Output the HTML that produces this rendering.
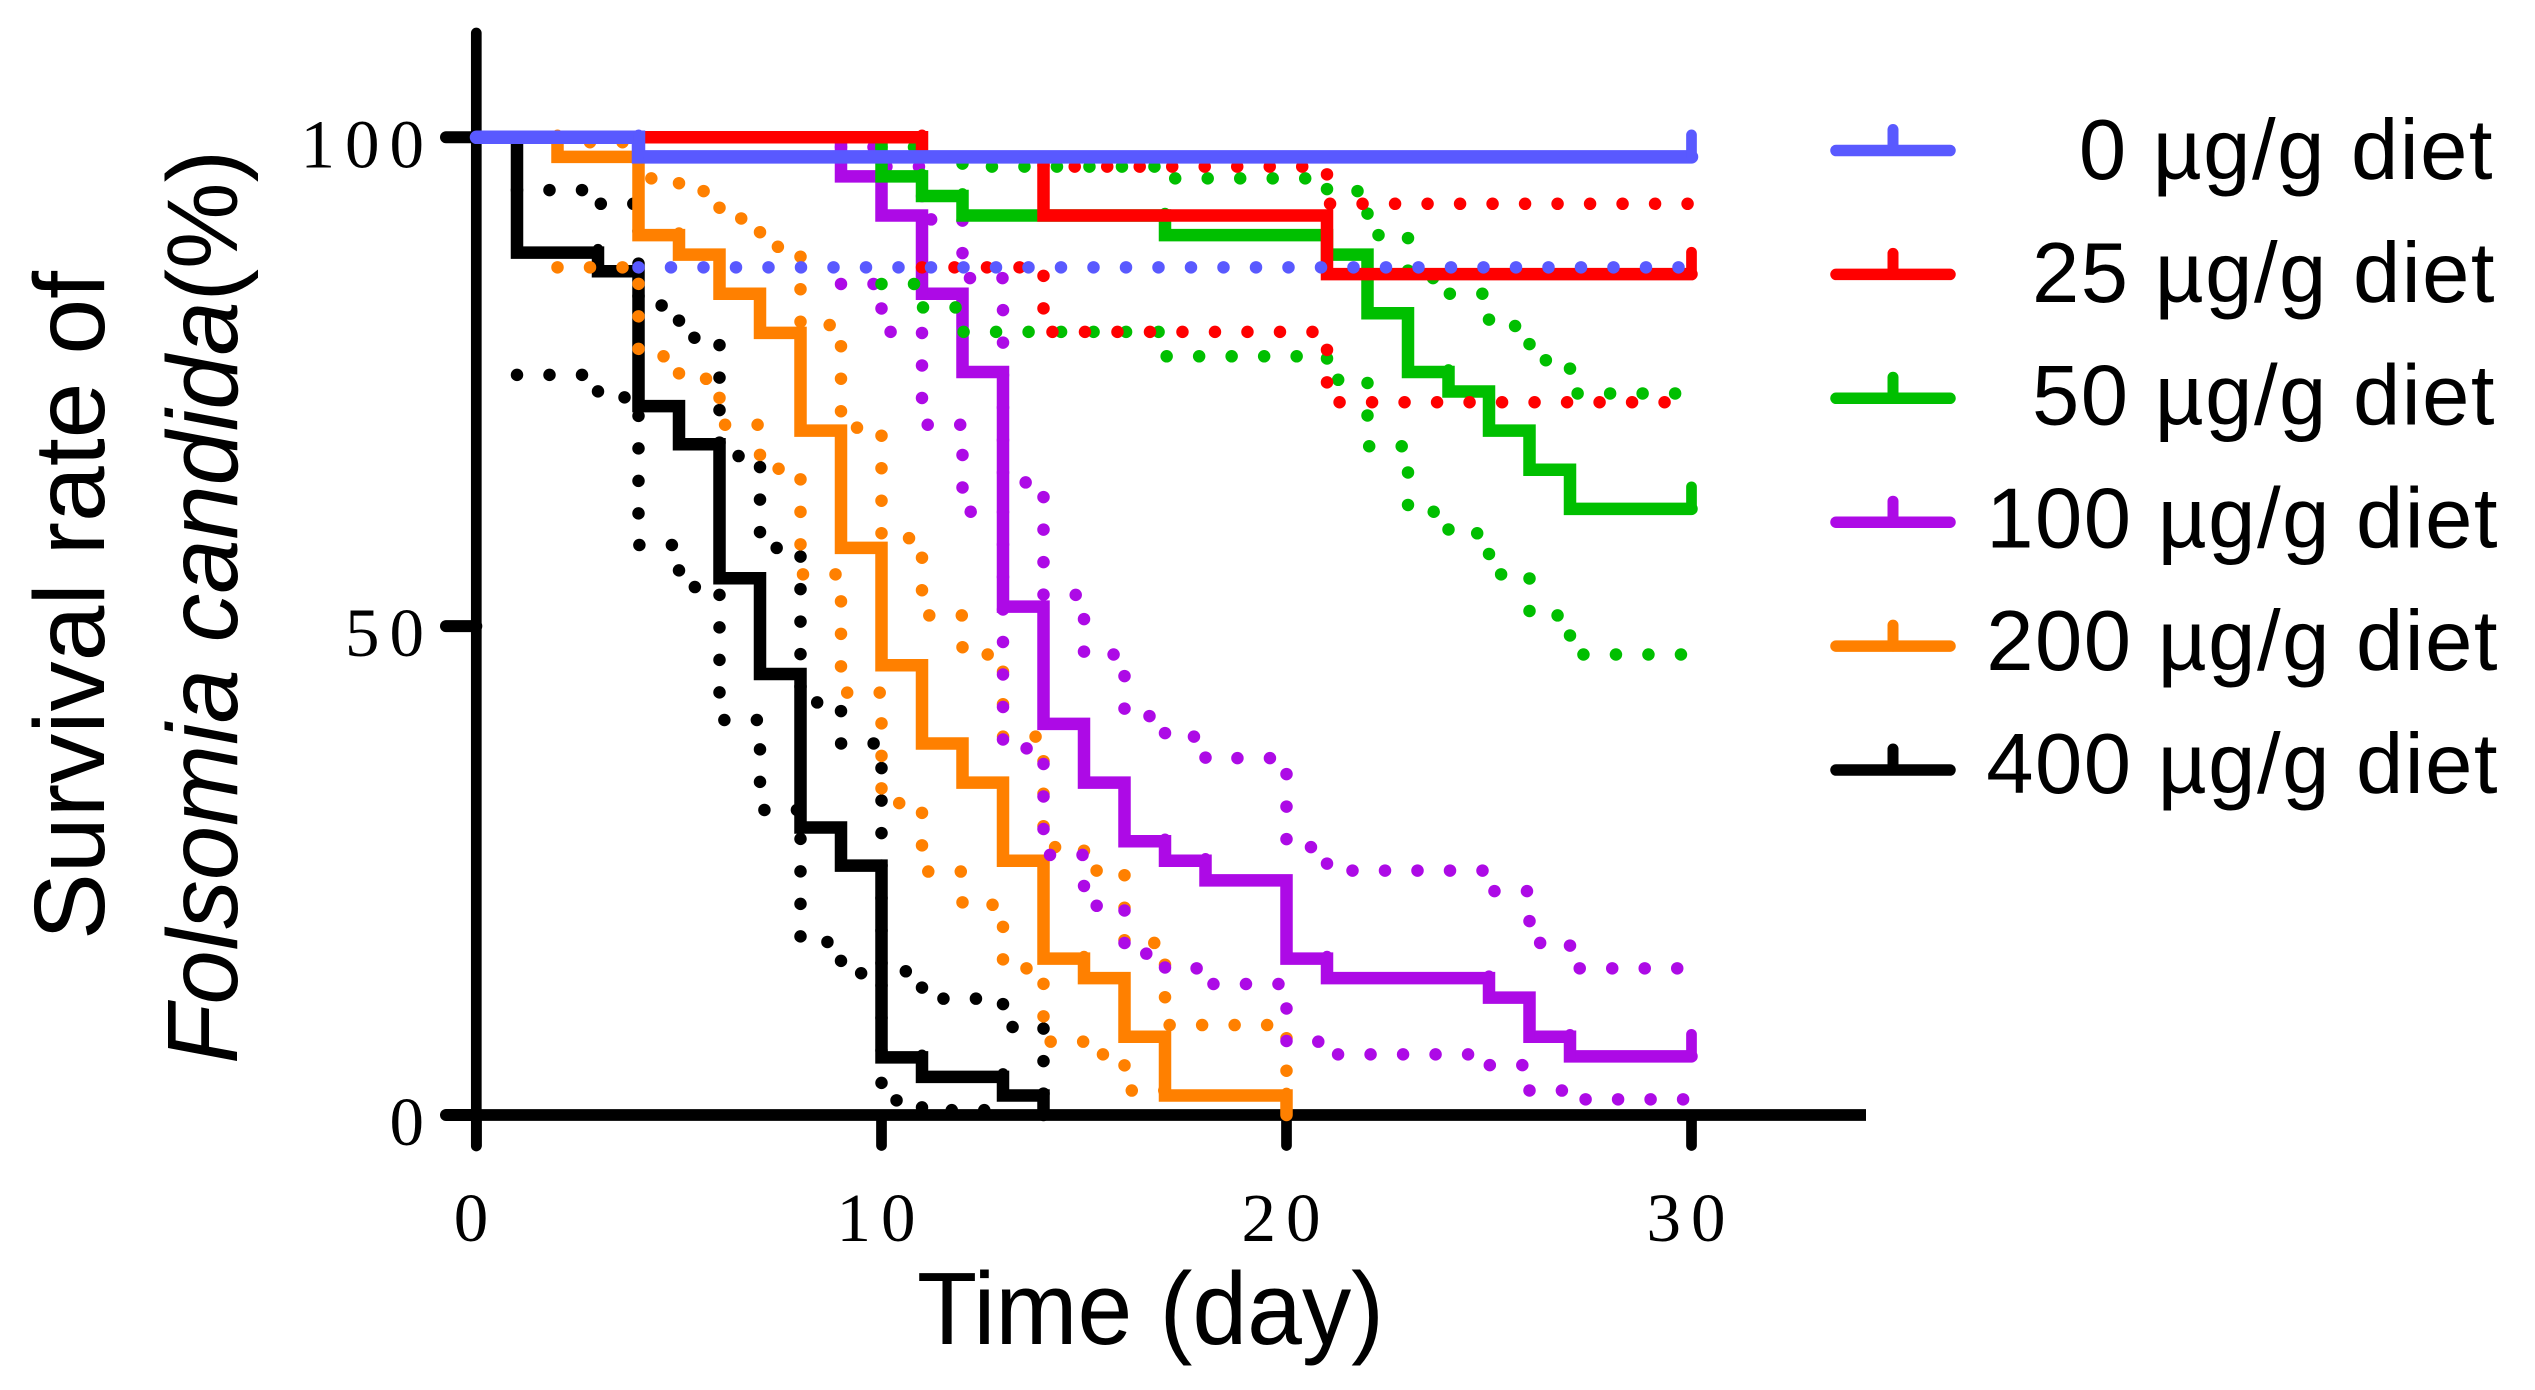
<!DOCTYPE html>
<html lang="en">
<head>
<meta charset="utf-8">
<title>Survival rate of Folsomia candida</title>
<style>
html,body{margin:0;padding:0;background:#fff;}
body{width:2535px;height:1390px;overflow:hidden;}
svg{display:block;}
text{fill:#000;}
.tick-label{font-family:"Liberation Serif",serif;font-size:69px;letter-spacing:10px;}
.title{font-family:"Liberation Sans",sans-serif;}
.legend-text{font-family:"Liberation Sans",sans-serif;font-size:85px;letter-spacing:1.5px;text-anchor:end;}
</style>
</head>
<body>
<svg id="chart" xmlns="http://www.w3.org/2000/svg" width="2535" height="1390" viewBox="0 0 2535 1390">
  <rect x="0" y="0" width="2535" height="1390" fill="#fff"/>
  <g id="series-layer"></g>
  <g id="axis-layer"></g>
  <g id="legend-layer"></g>
  <text class="title" x="917" y="1344" font-size="103" textLength="467" lengthAdjust="spacingAndGlyphs">Time (day)</text>
  <text class="title" transform="translate(104,940) rotate(-90)" font-size="100" textLength="669" lengthAdjust="spacingAndGlyphs">Survival rate of</text>
  <text class="title" transform="translate(237,1064) rotate(-90)" font-size="100" textLength="914" lengthAdjust="spacingAndGlyphs"><tspan font-style="italic">Folsomia candida</tspan>(%)</text>
</svg>
<script>
// Axis labels
const xTickValues = [0, 10, 20, 30];
const yTickValues = [0, 50, 100];

// Legend labels, in display order
const legendLabels = ['0 µg/g diet', '25 µg/g diet', '50 µg/g diet', '100 µg/g diet', '200 µg/g diet', '400 µg/g diet'];

// 0 µg/g diet
const blueDays = [0, 4, 30];
const blueSurvival = [100, 98, 98];
const blueLowerDays = [4, 30];
const blueLowerValues = [86.7, 86.7];

// 25 µg/g diet
const redDays = [0, 11, 14, 21, 30];
const redSurvival = [100, 98, 92, 86, 86];
const redUpperDays = [11, 14, 21, 30];
const redUpperValues = [98, 97, 93.2, 93.2];
const redLowerDays = [11, 14, 21, 30];
const redLowerValues = [86.7, 80.1, 72.9, 72.9];

// 50 µg/g diet
const greenDays = [0, 10, 11, 12, 17, 21, 22, 23, 24, 25, 26, 27, 30];
const greenSurvival = [100, 96, 94, 92, 90, 88, 82, 76, 74, 70, 66, 62, 62];
const greenUpperDays = [10, 11, 12, 17, 21, 22, 23, 24, 25, 26, 27, 30];
const greenUpperValues = [99, 98, 97, 95.8, 94.5, 90, 85.6, 84, 80.7, 77.2, 73.8, 73.8];
const greenLowerDays = [10, 11, 12, 17, 21, 22, 23, 24, 25, 26, 27, 30];
const greenLowerValues = [85, 82.6, 80.1, 77.6, 75.2, 68.4, 61.7, 59.5, 55.3, 51.1, 47.1, 47.1];

// 100 µg/g diet
const purpleDays = [0, 9, 10, 11, 12, 13, 14, 15, 16, 17, 18, 20, 21, 25, 26, 27, 30];
const purpleSurvival = [100, 96, 92, 84, 76, 52, 40, 34, 28, 26, 24, 16, 14, 12, 8, 6, 6];
const purpleUpperDays = [9, 10, 11, 12, 13, 14, 15, 16, 17, 18, 20, 21, 25, 26, 27, 30];
const purpleUpperValues = [99, 97, 91.6, 85.6, 64.7, 53.2, 47.1, 40.8, 38.7, 36.5, 27.4, 25, 22.9, 17.6, 15, 15];
const purpleLowerDays = [9, 10, 11, 12, 13, 14, 15, 16, 17, 18, 20, 21, 25, 26, 27, 30];
const purpleLowerValues = [85, 80.1, 70.6, 61.7, 37.5, 26.6, 21.4, 16.5, 15, 13.4, 7.5, 6.2, 5.1, 2.5, 1.6, 1.6];

// 200 µg/g diet
const orangeDays = [0, 2, 4, 5, 6, 7, 8, 9, 10, 11, 12, 13, 14, 15, 16, 17, 20];
const orangeSurvival = [100, 98, 90, 88, 84, 80, 70, 58, 46, 38, 34, 26, 16, 14, 8, 2, 0];
const orangeUpperDays = [2, 4, 5, 6, 7, 8, 9, 10, 11, 12, 13, 14, 15, 16, 17, 20];
const orangeUpperValues = [99.5, 95.8, 94.5, 91.7, 88.8, 80.8, 70.3, 59, 51.1, 47.1, 38.7, 27.4, 25, 17.6, 9.2, 2];
const orangeLowerDays = [2, 4, 5, 6, 7, 8, 9, 10, 11, 12, 13, 14, 15, 16, 17];
const orangeLowerValues = [86.7, 77.6, 75.3, 70.6, 66.1, 55.3, 43.2, 31.9, 24.9, 21.5, 15, 7.5, 6.2, 2.5, 2.5];

// 400 µg/g diet
const blackDays = [0, 1, 3, 4, 5, 6, 7, 8, 9, 10, 11, 13, 14];
const blackSurvival = [100, 88.2, 86.3, 72.5, 68.6, 54.9, 45.1, 29.4, 25.5, 5.9, 3.9, 2, 0];
const blackUpperDays = [1, 3, 4, 5, 6, 7, 8, 9, 10, 11, 13, 14];
const blackUpperValues = [94.6, 93.2, 82.8, 79.5, 67.4, 58, 42.2, 38, 14.7, 11.9, 9, 0];
const blackLowerDays = [1, 3, 4, 5, 6, 7, 8, 9, 10, 11, 13];
const blackLowerValues = [75.7, 73.4, 58.3, 54, 40.4, 31.2, 17.7, 14.5, 1.5, 0.5, 0.5];

const SVG_NS = 'http://www.w3.org/2000/svg';
const xScale = function (day) { return 476.5 + day * 40.5; };
const yScale = function (pct) { return 1115 - pct * 9.777; };

function makeLine(parent, x1, y1, x2, y2, color, width, cap) {
  const el = document.createElementNS(SVG_NS, 'line');
  el.setAttribute('x1', x1);
  el.setAttribute('y1', y1);
  el.setAttribute('x2', x2);
  el.setAttribute('y2', y2);
  el.setAttribute('stroke', color);
  el.setAttribute('stroke-width', width);
  el.setAttribute('stroke-linecap', cap);
  parent.appendChild(el);
  return el;
}

function stepPath(days, values) {
  let d = 'M' + xScale(days[0]) + ' ' + yScale(values[0]);
  for (let i = 1; i < days.length; i++) {
    d += 'H' + xScale(days[i]) + 'V' + yScale(values[i]);
  }
  return d;
}

function drawConfidence(parent, days, values, color, name) {
  const el = document.createElementNS(SVG_NS, 'path');
  el.setAttribute('d', stepPath(days, values));
  el.setAttribute('fill', 'none');
  el.setAttribute('stroke', color);
  el.setAttribute('stroke-width', 12.5);
  el.setAttribute('stroke-linecap', 'round');
  el.setAttribute('stroke-dasharray', '0 32.5');
  
  
  parent.appendChild(el);
}

function drawSurvival(parent, days, values, color, width, name) {
  const group = document.createElementNS(SVG_NS, 'g');
  
  
  const el = document.createElementNS(SVG_NS, 'path');
  el.setAttribute('d', stepPath(days, values));
  el.setAttribute('fill', 'none');
  el.setAttribute('stroke', color);
  el.setAttribute('stroke-width', width);
  el.setAttribute('stroke-linecap', 'round');
  el.setAttribute('stroke-linejoin', 'miter');
  group.appendChild(el);
  for (let i = 1; i < days.length; i++) {
    const x = xScale(days[i]);
    const y = yScale(values[i]);
    const tick = makeLine(group, x, y, x, y - 22, color, 10.7, 'round');
    
    
  }
  parent.appendChild(group);
}

const seriesLayer = document.getElementById('series-layer');

// Painted back to front: the 0 µg/g curve ends up on top
drawConfidence(seriesLayer, blackUpperDays, blackUpperValues, '#000000', 'ci-upper-400');
drawConfidence(seriesLayer, blackLowerDays, blackLowerValues, '#000000', 'ci-lower-400');
drawSurvival(seriesLayer, blackDays, blackSurvival, '#000000', 12.5, 'survival-curve-400');

drawConfidence(seriesLayer, orangeUpperDays, orangeUpperValues, '#ff8000', 'ci-upper-200');
drawConfidence(seriesLayer, orangeLowerDays, orangeLowerValues, '#ff8000', 'ci-lower-200');
drawSurvival(seriesLayer, orangeDays, orangeSurvival, '#ff8000', 12.5, 'survival-curve-200');

drawConfidence(seriesLayer, purpleUpperDays, purpleUpperValues, '#ad0ae6', 'ci-upper-100');
drawConfidence(seriesLayer, purpleLowerDays, purpleLowerValues, '#ad0ae6', 'ci-lower-100');
drawSurvival(seriesLayer, purpleDays, purpleSurvival, '#ad0ae6', 12.5, 'survival-curve-100');

drawConfidence(seriesLayer, greenUpperDays, greenUpperValues, '#00bf00', 'ci-upper-50');
drawConfidence(seriesLayer, greenLowerDays, greenLowerValues, '#00bf00', 'ci-lower-50');
drawSurvival(seriesLayer, greenDays, greenSurvival, '#00bf00', 12.5, 'survival-curve-50');

drawConfidence(seriesLayer, redUpperDays, redUpperValues, '#ff0000', 'ci-upper-25');
drawConfidence(seriesLayer, redLowerDays, redLowerValues, '#ff0000', 'ci-lower-25');
drawSurvival(seriesLayer, redDays, redSurvival, '#ff0000', 12.5, 'survival-curve-25');

drawConfidence(seriesLayer, blueLowerDays, blueLowerValues, '#5959ff', 'ci-lower-0');
drawSurvival(seriesLayer, blueDays, blueSurvival, '#5959ff', 13.5, 'survival-curve-0');

// Axes sit beneath the series
const axisLayer = document.getElementById('axis-layer');
seriesLayer.parentNode.insertBefore(axisLayer, seriesLayer);

const yAxisLine = makeLine(axisLayer, 476.3, 33, 476.3, 1146, '#000', 10.7, 'round');



const xAxisLine = makeLine(axisLayer, 476.3, 1115, 1866, 1115, '#000', 11.7, 'butt');



xTickValues.forEach(function (value) {
  const x = xScale(value);
  const tick = makeLine(axisLayer, x, 1115, x, 1145.5, '#000', 10.7, 'round');
  
  
  const label = document.createElementNS(SVG_NS, 'text');
  const text = String(value);
  label.setAttribute('class', 'tick-label');
  label.setAttribute('x', x - 5 - (text.length * 44.5 - 10) / 2 - 0.5);
  label.setAttribute('y', 1241);
  label.textContent = text;
  
  
  axisLayer.appendChild(label);
});

yTickValues.forEach(function (value) {
  const y = yScale(value);
  const tick = makeLine(axisLayer, 476.3, y, 446, y, '#000', 12, 'round');
  
  
  const label = document.createElementNS(SVG_NS, 'text');
  const text = String(value);
  label.setAttribute('class', 'tick-label');
  label.setAttribute('x', 434 - text.length * 44.5);
  label.setAttribute('y', y + 30);
  label.textContent = text;
  
  
  axisLayer.appendChild(label);
});

// Legend
const legendLayer = document.getElementById('legend-layer');
const legendColors = ['#5959ff', '#ff0000', '#00bf00', '#ad0ae6', '#ff8000', '#000000'];
legendLabels.forEach(function (labelText, i) {
  const entry = document.createElementNS(SVG_NS, 'g');
  
  
  const lineY = 150.5 + i * 123.9;
  const swatch = makeLine(entry, 1836, lineY, 1950, lineY, legendColors[i], 11.5, 'round');
  
  
  const nub = makeLine(entry, 1893, lineY, 1893, lineY - 21, legendColors[i], 11, 'round');
  
  
  const label = document.createElementNS(SVG_NS, 'text');
  label.setAttribute('class', 'legend-text');
  label.setAttribute('x', i === 0 ? 2494 : (i < 3 ? 2496 : 2499));
  label.setAttribute('y', 179 + i * 122.8);
  label.textContent = labelText;
  
  
  entry.appendChild(label);
  legendLayer.appendChild(entry);
});
</script>
</body>
</html>
